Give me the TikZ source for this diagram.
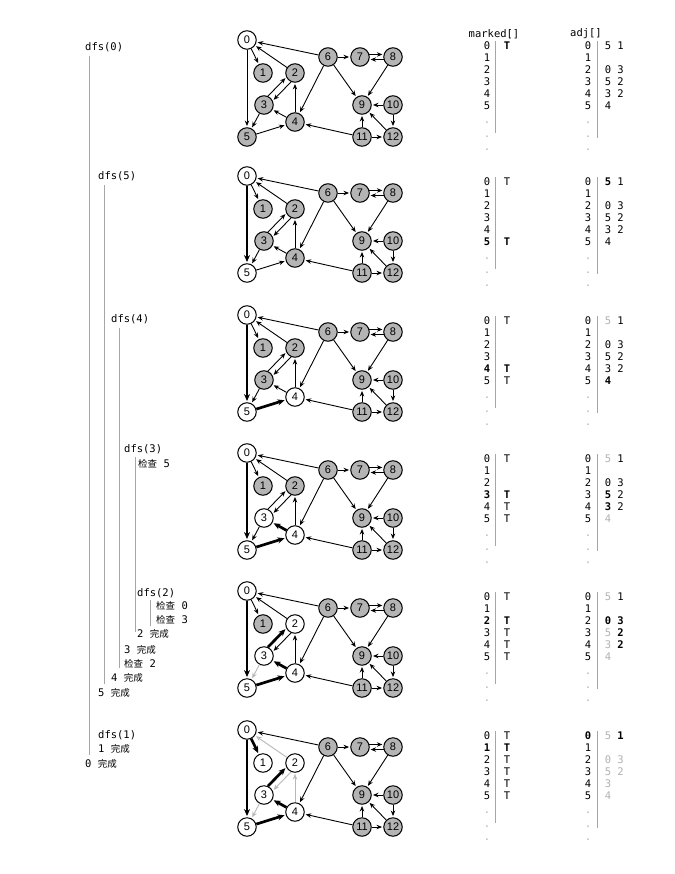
\documentclass[tikz,border=0pt]{standalone}
\usepackage{fontspec}
\setmonofont{DejaVu Sans Mono}
\newfontfamily\cjkfont{Noto Sans CJK SC}
\newfontfamily\labfont{Liberation Sans}
\usepackage{tikz}
\usetikzlibrary{arrows.meta}
\definecolor{vgray}{RGB}{180,180,180}
\newcommand{\mono}{\ttfamily\fontsize{10.5}{12}\selectfont}
\newcommand{\ck}[1]{{\cjkfont\fontsize{9.5}{12}\selectfont #1}}
\tikzset{
  vtx/.style={circle, draw, line width=1pt, fill=vgray, minimum size=18.5pt, inner sep=0pt, font=\labfont\fontsize{11}{11}\selectfont},
  seen/.style={fill=white},
  edg/.style={-{Stealth[length=5.5pt, width=4.5pt]}, line width=0.9pt, shorten >=1.2pt},
  tree/.style={line width=2.7pt, -{Stealth[length=7pt, width=6pt]}},
  done/.style={draw=black!28},
  tx/.style={font=\mono, inner sep=0pt},
  bx/.style={font=\mono\bfseries, inner sep=0pt},
  gx/.style={tx, text=black!30},
  bar/.style={draw=black!35, line width=0.7pt},
  s0/.style={}, s1/.style={}, s2/.style={}, s3/.style={}, s4/.style={}, s5/.style={},
  e05/.style={}, e01/.style={}, e20/.style={}, e23/.style={}, e32/.style={},
  e35/.style={}, e42/.style={}, e43/.style={}, e54/.style={},
}
% one copy of the digraph, node names prefixed by #1
\newcommand{\dgraph}[1]{%
  \node[vtx,s0] (#1-0) at (247,40) {0};
  \node[vtx,s1] (#1-1) at (263,73) {1};
  \node[vtx,s2] (#1-2) at (295,73) {2};
  \node[vtx,s3] (#1-3) at (264,105) {3};
  \node[vtx,s4] (#1-4) at (295,122) {4};
  \node[vtx,s5] (#1-5) at (247,137) {5};
  \node[vtx] (#1-6) at (328,57) {6};
  \node[vtx] (#1-7) at (360,57) {7};
  \node[vtx] (#1-8) at (393,57) {8};
  \node[vtx] (#1-9) at (362,105) {9};
  \node[vtx] (#1-10) at (393,105) {10};
  \node[vtx] (#1-11) at (362,137) {11};
  \node[vtx] (#1-12) at (393,137) {12};
  \draw[edg,e05] (#1-0) -- (#1-5);
  \draw[edg,e01] (#1-0) -- (#1-1);
  \draw[edg,e20] (#1-2) -- (#1-0);
  \draw[edg] (#1-6) -- (#1-0);
  \draw[edg,e32] (#1-3.66) -- (#1-2.206);
  \draw[edg,e23] (#1-2.246) -- (#1-3.26);
  \draw[edg,e35] (#1-3) -- (#1-5);
  \draw[edg,e43] (#1-4) -- (#1-3);
  \draw[edg,e42] (#1-4) -- (#1-2);
  \draw[edg,e54] (#1-5) -- (#1-4);
  \draw[edg] (#1-6) -- (#1-4);
  \draw[edg] (#1-11) -- (#1-4);
  \draw[edg] (#1-6) -- (#1-7);
  \draw[edg] (#1-7.15) -- (#1-8.165);
  \draw[edg] (#1-8.195) -- (#1-7.345);
  \draw[edg] (#1-6) -- (#1-9);
  \draw[edg] (#1-8) -- (#1-9);
  \draw[edg] (#1-10) -- (#1-9);
  \draw[edg] (#1-11) -- (#1-9);
  \draw[edg] (#1-12) -- (#1-9);
  \draw[edg] (#1-10) -- (#1-12);
  \draw[edg] (#1-11) -- (#1-12);
}
% index columns of marked[] and adj[]; #2 bold marked row, #3 bold adj row
\newcommand{\tables}[3]{%
  \foreach \i in {0,...,5} {
    \node[tx] (#1-mi\i) at (487,{46+11.9*\i}) {\ifnum\i=#2\relax\bfseries\fi\i};
    \node[tx] (#1-ai\i) at (588,{46+11.9*\i}) {\ifnum\i=#3\relax\bfseries\fi\i};
  }
  \foreach \j/\yy in {1/123,2/137,3/150} {
    \node[gx] (#1-md\j) at (487,\yy) {.};
    \node[gx] (#1-ad\j) at (588,\yy) {.};
  }
  \draw[bar] (495,41) -- (495,133);
  \draw[bar] (597,41) -- (597,138);
}

\begin{document}
\begin{tikzpicture}[x=1pt, y=-1pt]
\fill[white] (0,0) rectangle (674,874);
\useasboundingbox (0,0) rectangle (674,874);

% --- call trace ---
\node[tx, anchor=west] (t-d0) at (85,47) {dfs(0)};
\node[tx, anchor=west] (t-d5) at (98,176) {dfs(5)};
\node[tx, anchor=west] (t-d4) at (111,319) {dfs(4)};
\node[tx, anchor=west] (t-d3) at (124,449) {dfs(3)};
\node[tx, anchor=west] (t-c35) at (138,464) {\ck{检查} 5};
\node[tx, anchor=west] (t-d2) at (137,593) {dfs(2)};
\node[tx, anchor=west] (t-c20) at (156,606) {\ck{检查} 0};
\node[tx, anchor=west] (t-c23) at (156,620) {\ck{检查} 3};
\node[tx, anchor=west] (t-f2) at (137,634) {2 \ck{完成}};
\node[tx, anchor=west] (t-f3) at (124,650) {3 \ck{完成}};
\node[tx, anchor=west] (t-c42) at (124,664) {\ck{检查} 2};
\node[tx, anchor=west] (t-f4) at (111,678) {4 \ck{完成}};
\node[tx, anchor=west] (t-f5) at (98,693) {5 \ck{完成}};
\node[tx, anchor=west] (t-d1) at (98,735) {dfs(1)};
\node[tx, anchor=west] (t-f1) at (98,749) {1 \ck{完成}};
\node[tx, anchor=west] (t-f0) at (85,764) {0 \ck{完成}};
\draw[bar] (89.5,56) -- (89.5,755);
\draw[bar] (104.5,185) -- (104.5,684);
\draw[bar] (119.5,328) -- (119.5,668);
\draw[bar] (135,457) -- (135,632);
\draw[bar] (150,600) -- (150,626);

% --- headers ---
\node[tx] (h-m) at (494,34) {marked[]};
\node[tx] (h-a) at (586,34) {adj[]};

% --- panel 1: dfs(0) ---
\begin{scope}[s0/.style=seen]
\dgraph{a}
\tables{a}{-1}{-1}
\node[bx] (a-t0) at (507,46) {T};
\node[tx] (a-v01) at (608,46) {5};
\node[tx] (a-v02) at (620.5,46) {1};
\node[tx] (a-v21) at (608,69.8) {0};
\node[tx] (a-v22) at (620.5,69.8) {3};
\node[tx] (a-v31) at (608,81.7) {5};
\node[tx] (a-v32) at (620.5,81.7) {2};
\node[tx] (a-v41) at (608,93.6) {3};
\node[tx] (a-v42) at (620.5,93.6) {2};
\node[tx] (a-v51) at (608,105.5) {4};
\end{scope}

% --- panel 2: dfs(5) ---
\begin{scope}[shift={(0,136)}, s0/.style=seen, s5/.style=seen, e05/.style=tree]
\dgraph{b}
\tables{b}{5}{-1}
\node[tx] (b-t0) at (507,46) {T};
\node[bx] (b-t5) at (507,105.5) {T};
\node[bx] (b-v01) at (608,46) {5};
\node[tx] (b-v02) at (620.5,46) {1};
\node[tx] (b-v21) at (608,69.8) {0};
\node[tx] (b-v22) at (620.5,69.8) {3};
\node[tx] (b-v31) at (608,81.7) {5};
\node[tx] (b-v32) at (620.5,81.7) {2};
\node[tx] (b-v41) at (608,93.6) {3};
\node[tx] (b-v42) at (620.5,93.6) {2};
\node[tx] (b-v51) at (608,105.5) {4};
\end{scope}

% --- panel 3: dfs(4) ---
\begin{scope}[shift={(0,275)}, s0/.style=seen, s5/.style=seen, s4/.style=seen,
  e05/.style=tree, e54/.style=tree]
\dgraph{c}
\tables{c}{4}{-1}
\node[tx] (c-t0) at (507,46) {T};
\node[bx] (c-t4) at (507,93.6) {T};
\node[tx] (c-t5) at (507,105.5) {T};
\node[gx] (c-v01) at (608,46) {5};
\node[tx] (c-v02) at (620.5,46) {1};
\node[tx] (c-v21) at (608,69.8) {0};
\node[tx] (c-v22) at (620.5,69.8) {3};
\node[tx] (c-v31) at (608,81.7) {5};
\node[tx] (c-v32) at (620.5,81.7) {2};
\node[tx] (c-v41) at (608,93.6) {3};
\node[tx] (c-v42) at (620.5,93.6) {2};
\node[bx] (c-v51) at (608,105.5) {4};
\end{scope}

% --- panel 4: dfs(3) ---
\begin{scope}[shift={(0,413)}, s0/.style=seen, s5/.style=seen, s4/.style=seen, s3/.style=seen,
  e05/.style=tree, e54/.style=tree, e43/.style=tree]
\dgraph{d}
\tables{d}{3}{-1}
\node[tx] (d-t0) at (507,46) {T};
\node[bx] (d-t3) at (507,81.7) {T};
\node[tx] (d-t4) at (507,93.6) {T};
\node[tx] (d-t5) at (507,105.5) {T};
\node[gx] (d-v01) at (608,46) {5};
\node[tx] (d-v02) at (620.5,46) {1};
\node[tx] (d-v21) at (608,69.8) {0};
\node[tx] (d-v22) at (620.5,69.8) {3};
\node[bx] (d-v31) at (608,81.7) {5};
\node[tx] (d-v32) at (620.5,81.7) {2};
\node[bx] (d-v41) at (608,93.6) {3};
\node[tx] (d-v42) at (620.5,93.6) {2};
\node[gx] (d-v51) at (608,105.5) {4};
\end{scope}

% --- panel 5: dfs(2) ---
\begin{scope}[shift={(0,551)}, s0/.style=seen, s5/.style=seen, s4/.style=seen, s3/.style=seen, s2/.style=seen,
  e05/.style=tree, e54/.style=tree, e43/.style=tree, e32/.style=tree, e35/.style=done]
\dgraph{e}
\tables{e}{2}{-1}
\node[tx] (e-t0) at (507,46) {T};
\node[bx] (e-t2) at (507,69.8) {T};
\node[tx] (e-t3) at (507,81.7) {T};
\node[tx] (e-t4) at (507,93.6) {T};
\node[tx] (e-t5) at (507,105.5) {T};
\node[gx] (e-v01) at (608,46) {5};
\node[tx] (e-v02) at (620.5,46) {1};
\node[bx] (e-v21) at (608,69.8) {0};
\node[bx] (e-v22) at (620.5,69.8) {3};
\node[gx] (e-v31) at (608,81.7) {5};
\node[bx] (e-v32) at (620.5,81.7) {2};
\node[gx] (e-v41) at (608,93.6) {3};
\node[bx] (e-v42) at (620.5,93.6) {2};
\node[gx] (e-v51) at (608,105.5) {4};
\end{scope}

% --- panel 6: dfs(1) ---
\begin{scope}[shift={(0,690)}, s0/.style=seen, s1/.style=seen, s2/.style=seen, s3/.style=seen, s4/.style=seen, s5/.style=seen,
  e05/.style=tree, e54/.style=tree, e43/.style=tree, e32/.style=tree, e01/.style=tree,
  e35/.style=done, e20/.style=done, e23/.style=done, e42/.style=done]
\dgraph{f}
\tables{f}{1}{0}
\node[tx] (f-t0) at (507,46) {T};
\node[bx] (f-t1) at (507,57.9) {T};
\node[tx] (f-t2) at (507,69.8) {T};
\node[tx] (f-t3) at (507,81.7) {T};
\node[tx] (f-t4) at (507,93.6) {T};
\node[tx] (f-t5) at (507,105.5) {T};
\node[gx] (f-v01) at (608,46) {5};
\node[bx] (f-v02) at (620.5,46) {1};
\node[gx] (f-v21) at (608,69.8) {0};
\node[gx] (f-v22) at (620.5,69.8) {3};
\node[gx] (f-v31) at (608,81.7) {5};
\node[gx] (f-v32) at (620.5,81.7) {2};
\node[gx] (f-v41) at (608,93.6) {3};
\node[gx] (f-v51) at (608,105.5) {4};
\end{scope}
\end{tikzpicture}
\end{document}
